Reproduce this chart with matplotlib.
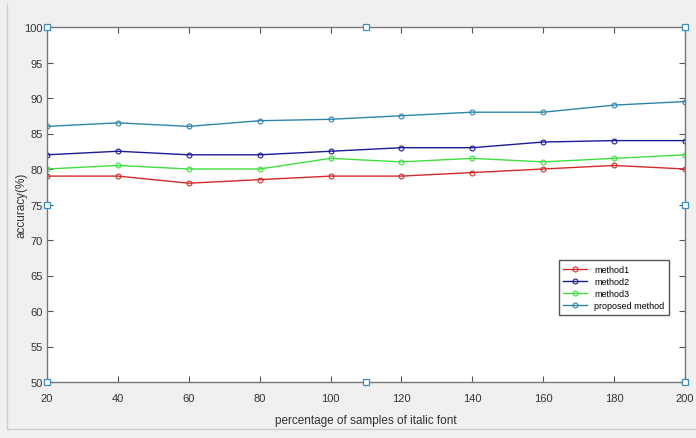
import numpy as np
import matplotlib.pyplot as plt
from matplotlib.lines import Line2D

x = [20, 40, 60, 80, 100, 120, 140, 160, 180, 200]
method1 = [79, 79, 78, 78.5, 79, 79, 79.5, 80, 80.5, 80]
method2 = [82, 82.5, 82, 82, 82.5, 83, 83, 83.8, 84, 84]
method3 = [80, 80.5, 80, 80, 81.5, 81, 81.5, 81, 81.5, 82]
proposed = [86, 86.5, 86, 86.8, 87, 87.5, 88, 88, 89, 89.5]
labels = ["method1", "method2", "method3", "proposed method"]
colors = ["#d42a2a", "#1c1c96", "#3ee03e", "#2c86ac"]

# selection handles around the axes
handle_x = [20, 110, 200, 20, 200, 20, 110, 200]
handle_y = [100, 100, 100, 75, 75, 50, 50, 50]

plt.rcParams['font.family'] = ['Liberation Sans Narrow', 'Liberation Sans', 'DejaVu Sans']

fig = plt.figure(figsize=(6.96, 4.39), dpi=100, facecolor="#f0f0f0")
ax = fig.add_axes([47 / 696, 1 - 383 / 439, 638 / 696, 355 / 439])

for s, lab, c in zip([method1, method2, method3, proposed], labels, colors):
    ax.plot(x, s, color=c, lw=1.0, marker="o", ms=3.5, mfc="none", mew=0.8, label=lab)

ax.plot(handle_x, handle_y, ls="none", marker="s", ms=4, mfc="white",
        mec="#3a8ec0", mew=0.9, clip_on=False, zorder=5)

ax.set_xlim(20, 200)
ax.set_ylim(50, 100)
ax.set_xticks(np.arange(20, 201, 20))
ax.set_yticks(np.arange(50, 101, 5))
ax.tick_params(direction="in", top=True, right=True, labelsize=8, length=4,
               color="#555555", labelcolor="#333333")
ax.tick_params(axis="x", pad=8)
ax.tick_params(axis="y", pad=3)
for sp in ax.spines.values():
    sp.set_color("#777777")
    sp.set_linewidth(1.0)
ax.set_xlabel("percentage of samples of italic font", fontsize=8.5, color="#333333", labelpad=8)
ax.set_ylabel("accuracy(%)", fontsize=8.5, color="#333333", labelpad=-2)

ax.legend(loc="upper left", bbox_to_anchor=(0.795, 0.355), fontsize=6.5,
          frameon=True, fancybox=False, edgecolor="#555555", handlelength=2.6,
          borderpad=0.5, labelspacing=0.35, framealpha=1)

# window frame lines
fig.add_artist(Line2D([7 / 696, 7 / 696], [1 - 5 / 439, 1 - 430 / 439], color="#cfcfcf", lw=1))
fig.add_artist(Line2D([7 / 696, 1], [1 - 430 / 439, 1 - 430 / 439], color="#cfcfcf", lw=1))

fig.savefig("out.png", dpi=100, facecolor=fig.get_facecolor())
